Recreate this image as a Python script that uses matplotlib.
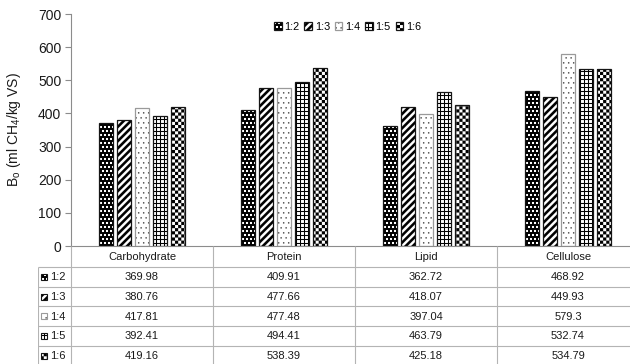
import warnings
import numpy as np
import matplotlib
matplotlib.use("Agg")
import matplotlib.pyplot as plt
from matplotlib import hatch as mhatch
from matplotlib.path import Path
from matplotlib.patches import Rectangle

warnings.filterwarnings("ignore")

# ---------------------------------------------------------------- data
categories = ["Carbohydrate", "Protein", "Lipid", "Cellulose"]
ratios = ["1:2", "1:3", "1:4", "1:5", "1:6"]
b0_12 = [369.98, 409.91, 362.72, 468.92]
b0_13 = [380.76, 477.66, 418.07, 449.93]
b0_14 = [417.81, 477.48, 397.04, 579.3]
b0_15 = [392.41, 494.41, 463.79, 532.74]
b0_16 = [419.16, 538.39, 425.18, 534.79]
series = [b0_12, b0_13, b0_14, b0_15, b0_16]
yticks = [0, 100, 200, 300, 400, 500, 600, 700]


# ---------------------------------------------------------------- fill patterns
class _PolygonHatch(mhatch.HatchPatternBase):
    """Hatch made of filled polygons inside the unit hatch tile."""
    char = ""

    def __init__(self, hatch, density):
        self.polys = self.polygons() if (hatch and self.char in hatch) else []
        self.num_vertices = sum(len(p) + 1 for p in self.polys)

    def polygons(self):
        return []

    def set_vertices_and_codes(self, vertices, codes):
        i = 0
        for poly in self.polys:
            k = len(poly)
            vertices[i:i + k] = poly
            vertices[i + k] = poly[0]
            codes[i] = Path.MOVETO
            codes[i + 1:i + k] = Path.LINETO
            codes[i + k] = Path.CLOSEPOLY
            i += k + 1


def _rect(x, y, w, h):
    return [(x, y), (x + w, y), (x + w, y + h), (x, y + h)]


class Confetti(_PolygonHatch):
    char = "a"

    def polygons(self):
        n = 25
        s = 0.5 / n
        out = []
        for j in range(n):
            shift = 0.5 / n if j % 2 else 0.0
            for i in range(n):
                out.append(_rect(i / n + shift, j / n, s, s))
        return out


class WideStripes(_PolygonHatch):
    char = "b"

    def polygons(self):
        n = 14
        w = 0.5 / n
        out = []
        for k in range(-n - 1, n + 1):
            c = k / n
            out.append([(c, 0), (c + w, 0), (c + w + 1, 1), (c + 1, 1)])
        return out


class SparseDots(_PolygonHatch):
    char = "c"

    def polygons(self):
        n = 20
        s = 0.013
        out = []
        for j in range(n):
            shift = 0.5 / n if j % 2 else 0.0
            for i in range(n):
                out.append(_rect(i / n + shift + 0.1 / n, j / n + 0.3 / n, s, s))
        return out


class FineGrid(_PolygonHatch):
    char = "d"

    def polygons(self):
        n = 25
        lw = 0.01
        out = []
        for i in range(n):
            out.append(_rect(i / n, 0, lw, 1))
            out.append(_rect(0, i / n, 1, lw))
        return out


class Checker(_PolygonHatch):
    char = "e"

    def polygons(self):
        n = 32
        c = 1.0 / n
        return [_rect(i * c, j * c, c, c)
                for j in range(n) for i in range(n) if (i + j) % 2 == 0]


mhatch._hatch_types.extend([Confetti, WideStripes, SparseDots, FineGrid, Checker])

styles = [
    dict(face="black", pattern="white", hatch="a", edge="#151515"),
    dict(face="white", pattern="black", hatch="b", edge="#151515"),
    dict(face="white", pattern="#3a3a3a", hatch="c", edge="#9a9a9a"),
    dict(face="white", pattern="black", hatch="d", edge="#151515"),
    dict(face="white", pattern="black", hatch="e", edge="#151515"),
]

# ---------------------------------------------------------------- figure
plt.rcParams["font.family"] = ["Liberation Sans", "DejaVu Sans"]
plt.rcParams["mathtext.fontset"] = "custom"
plt.rcParams["mathtext.rm"] = "Liberation Sans"
plt.rcParams["mathtext.it"] = "Liberation Sans:italic"
plt.rcParams["hatch.linewidth"] = 0.05

W, H = 630, 364
fig = plt.figure(figsize=(W / 100, H / 100), dpi=100)

# plot area: x in category units, each category 142 px wide
ax_l, ax_r, ax_t, ax_b = 71, 639, 14, 246
ax = fig.add_axes([ax_l / W, (H - ax_b) / H, (ax_r - ax_l) / W, (ax_b - ax_t) / H])
ax.set_xlim(0, len(categories))
ax.set_ylim(0, 700)
ax.set_yticks(yticks)
ax.set_xticks([])
for side in ("top", "right"):
    ax.spines[side].set_visible(False)
axis_grey = "#8c8c8c"
ax.spines["left"].set_color(axis_grey)
ax.spines["bottom"].set_color(axis_grey)
ax.spines["left"].set_linewidth(0.8)
ax.spines["bottom"].set_linewidth(0.8)
ax.tick_params(axis="y", length=4, width=0.8, color=axis_grey, labelsize=10,
               pad=3, labelcolor="#1a1a1a")
ax.set_ylabel(r"B$_\mathrm{o}$ (ml CH$_4$/kg VS)", fontsize=10, labelpad=11,
              color="#1a1a1a")

x = np.arange(len(categories)) + 0.5
pitch, width = 0.127, 0.102
handles = []
for k, (vals, st) in enumerate(zip(series, styles)):
    xs = x + (k - 2) * pitch
    fill = ax.bar(xs, vals, width, color=st["face"], edgecolor=st["pattern"],
                  linewidth=0, hatch=st["hatch"], zorder=2)
    edge = ax.bar(xs, vals, width, fill=False, edgecolor=st["edge"],
                  linewidth=0.9, zorder=3)
    handles.append((fill, edge))

ax.legend(handles, ratios, loc="center", bbox_to_anchor=(0.487, 0.944), ncol=5,
          frameon=False, fontsize=7.8, handlelength=0.7, handleheight=0.7,
          handletextpad=0.25, columnspacing=0.45, borderpad=0.2)

# ---------------------------------------------------------------- data table
label_w = 33.5 / 142
header_h, row_h = 21.0, 19.7
tab_h = header_h + row_h * len(ratios)
tax = fig.add_axes([(ax_l - 33.5) / W, (H - ax_b - tab_h) / H,
                    (ax_r - ax_l + 33.5) / W, tab_h / H])
tax.set_xlim(-label_w, len(categories))
tax.set_ylim(tab_h, 0)
tax.axis("off")

line_kw = dict(color="#b4b4b4", linewidth=0.8, solid_capstyle="butt")
edges = [header_h + i * row_h for i in range(len(ratios) + 1)]
for xb in range(len(categories) + 1):
    tax.plot([xb, xb], [0, tab_h], **line_kw)
tax.plot([-label_w, -label_w], [header_h, tab_h], **line_kw)
for e in edges:
    tax.plot([-label_w, len(categories)], [e, e], **line_kw)

txt_kw = dict(fontsize=8, color="#1a1a1a", va="center")
for i, cat in enumerate(categories):
    tax.text(i + 0.5, header_h / 2 + 0.5, cat, ha="center", **txt_kw)

for r, (vals, st, lab) in enumerate(zip(series, styles, ratios)):
    yc = header_h + (r + 0.5) * row_h
    for i, v in enumerate(vals):
        tax.text(i + 0.5, yc + 0.5, f"{v:g}", ha="center", **txt_kw)
    ix, isz = (41 - 71) / 142, 6.0
    tax.add_patch(Rectangle((ix, yc - isz / 2), isz / 142, isz,
                            facecolor=st["face"], edgecolor=st["pattern"],
                            linewidth=0, hatch=st["hatch"]))
    tax.add_patch(Rectangle((ix, yc - isz / 2), isz / 142, isz, fill=False,
                            edgecolor=st["edge"], linewidth=0.8))
    tax.text((50 - 71) / 142, yc + 0.5, lab, ha="left", **txt_kw)

fig.savefig("out.png", dpi=100)
